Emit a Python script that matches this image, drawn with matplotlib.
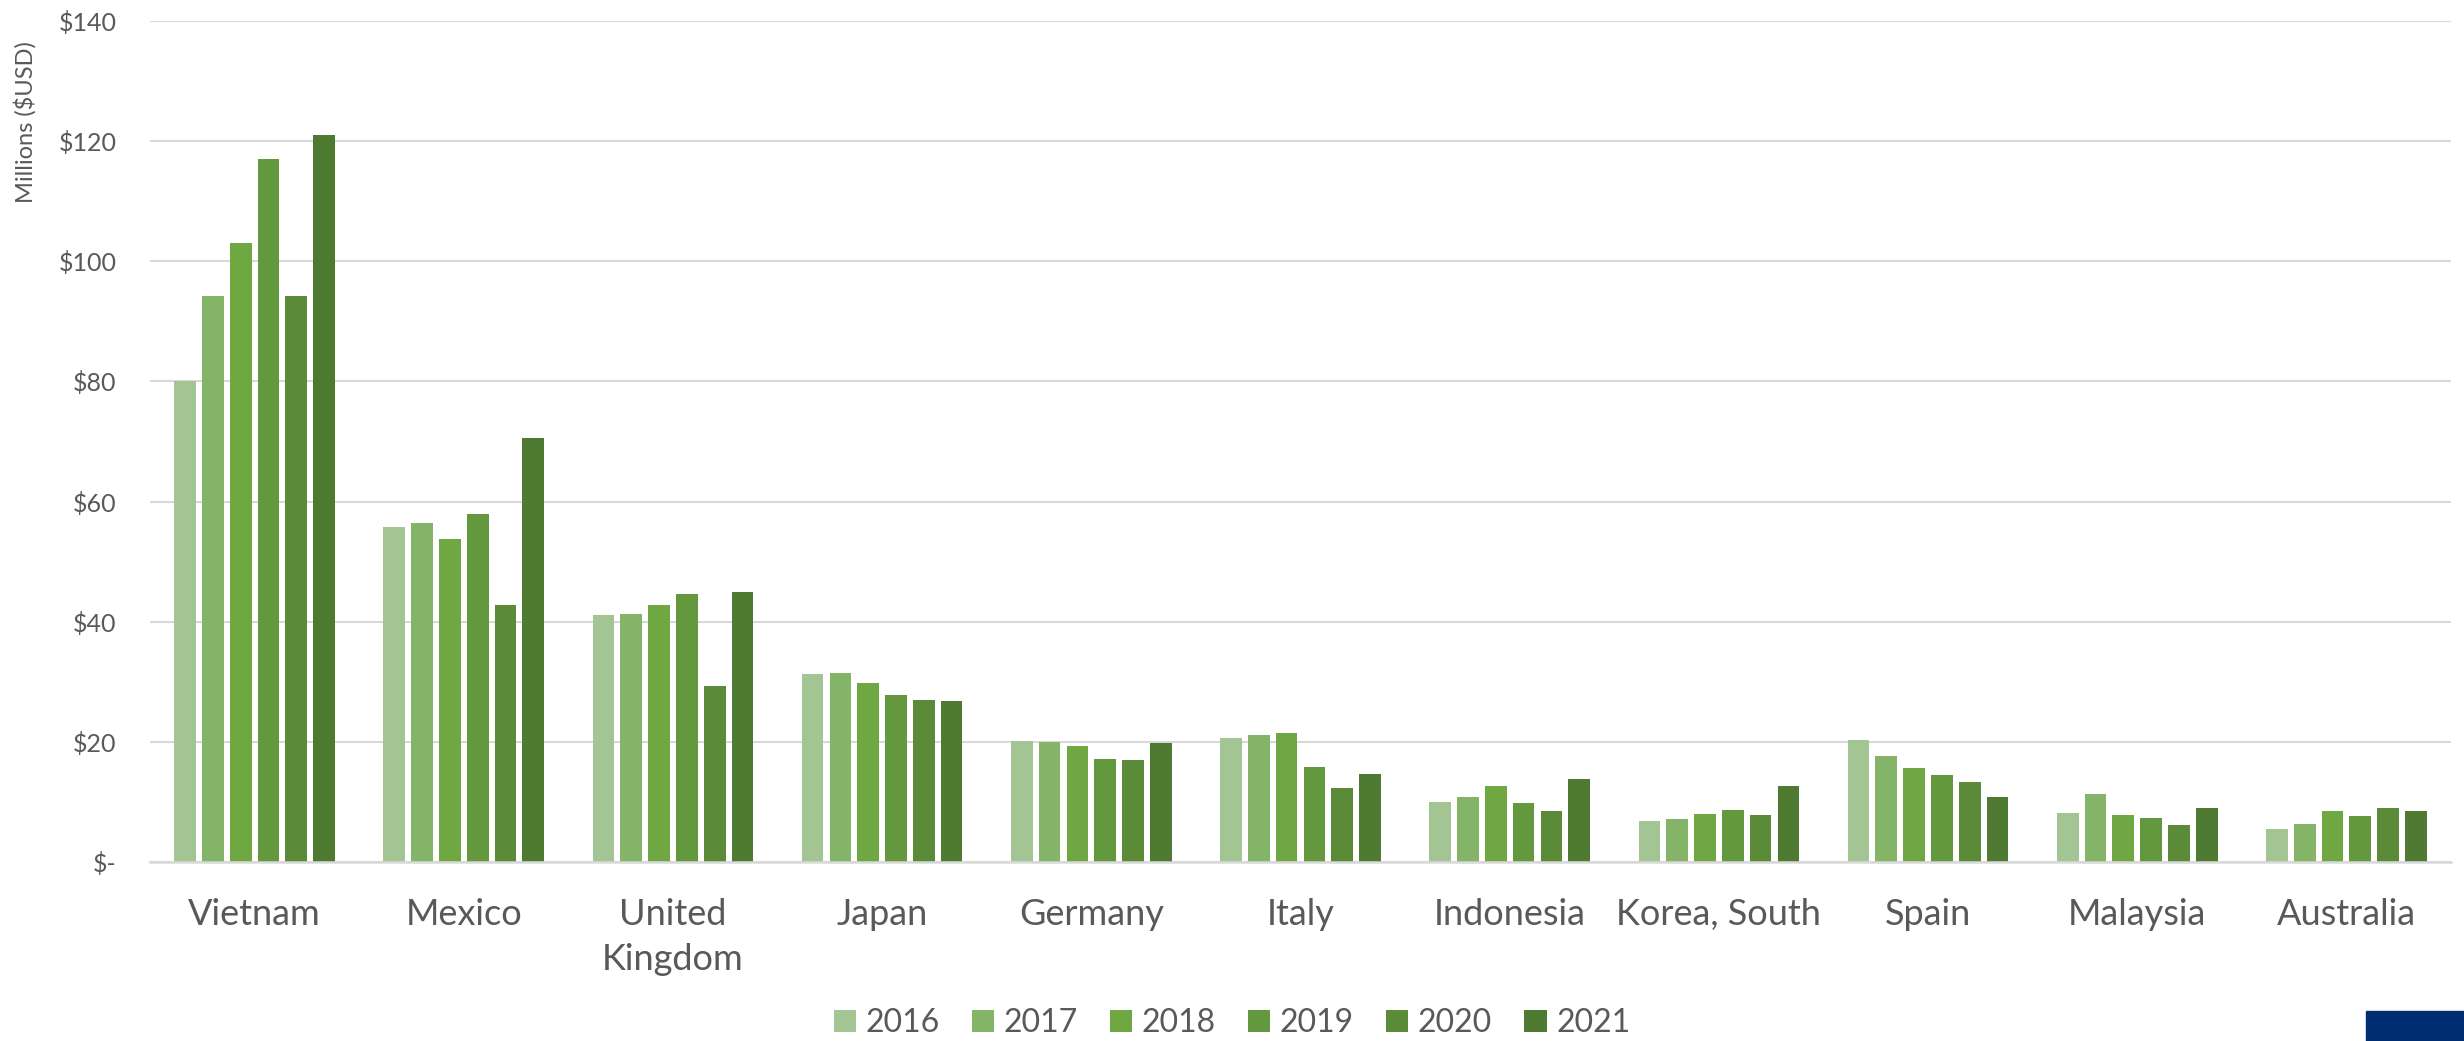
import matplotlib
matplotlib.use("Agg")
import matplotlib.pyplot as plt
import numpy as np
from matplotlib.patches import Rectangle

countries = ["Vietnam", "Mexico", "United\nKingdom", "Japan", "Germany", "Italy",
             "Indonesia", "Korea, South", "Spain", "Malaysia", "Australia"]
years = ["2016", "2017", "2018", "2019", "2020", "2021"]

v2016 = [80.0, 55.8, 41.1, 31.3, 20.1, 20.6, 10.0, 6.8, 20.3, 8.2, 5.5]
v2017 = [94.2, 56.4, 41.3, 31.4, 20.0, 21.1, 10.8, 7.2, 17.6, 11.3, 6.3]
v2018 = [103.0, 53.8, 42.7, 29.8, 19.3, 21.5, 12.6, 8.0, 15.6, 7.9, 8.5]
v2019 = [117.1, 57.9, 44.6, 27.8, 17.2, 15.8, 9.8, 8.7, 14.5, 7.4, 7.6]
v2020 = [94.3, 42.7, 29.3, 26.9, 16.9, 12.4, 8.5, 7.8, 13.3, 6.2, 9.0]
v2021 = [121.0, 70.5, 44.9, 26.8, 19.8, 14.7, 13.8, 12.6, 10.9, 9.0, 8.5]
series = [v2016, v2017, v2018, v2019, v2020, v2021]

colors = ["#A3C593", "#84B467", "#6FA743", "#64983E", "#5B8A38", "#4E7A31"]

plt.rcParams['font.family'] = ['Lato', 'DejaVu Sans']
txt = "#595959"

fig = plt.figure(figsize=(24.64, 10.41), dpi=100)
ax = fig.add_axes([150/2464, 1-862/1041, (2451-150)/2464, (862-21)/1041])

x = np.arange(len(countries))
step = 0.1329
width = 0.1038
for i, (vals, c, yr) in enumerate(zip(series, colors, years)):
    ax.bar(x + (i - 2.5) * step, vals, width=width, color=c, label=yr, zorder=3)

ax.set_xlim(-0.5, len(countries) - 0.5)
ax.set_ylim(0, 140)
yt = np.arange(0, 141, 20)
ax.set_yticks(yt)
ax.set_yticklabels(["$-" if v == 0 else f"${v}" for v in yt], fontsize=18, color=txt)
ax.set_xticks(x)
ax.set_xticklabels(countries, fontsize=26, color=txt, linespacing=1.45)
ax.tick_params(axis='both', length=0)
ax.tick_params(axis='y', pad=24)
ax.tick_params(axis='x', pad=26)
ax.grid(axis='y', color="#D9D9D9", linewidth=1.5, zorder=0)
for s in ["top", "right", "left"]:
    ax.spines[s].set_visible(False)
ax.spines["bottom"].set_color("#D9D9D9")
ax.spines["bottom"].set_linewidth(1.8)
ax.spines["bottom"].set_zorder(4)

fig.text(25/2464, 1-122/1041, "Millions ($USD)", rotation=90, ha='center', va='center',
         fontsize=17, color=txt)

leg = fig.legend(loc='center', bbox_to_anchor=(0.5, 1-1023/1041), ncol=6, frameon=False,
                 fontsize=23, handlelength=0.7, handleheight=0.7, handletextpad=0.3,
                 columnspacing=1.0, labelcolor=txt)

fig.patches.append(Rectangle((2366/2464, 0), (2464-2366)/2464, (1041-1011)/1041,
                             transform=fig.transFigure, color="#002D72", zorder=5))

fig.savefig("out.png", dpi=100)
